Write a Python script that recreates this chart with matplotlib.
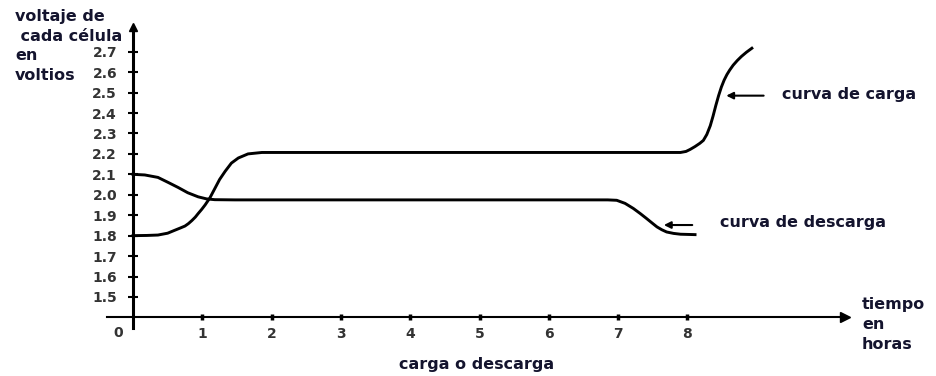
import matplotlib.pyplot as plt

# curva de carga (horas, voltios)
carga_x = [0, 0.2, 0.36, 0.5, 0.60, 0.68, 0.75, 0.80, 0.85, 0.90, 0.94, 0.99, 1.04, 1.11, 1.18,
           1.25, 1.33, 1.42, 1.52, 1.66, 1.86, 7.9, 7.98, 8.04, 8.11, 8.18, 8.23, 8.28, 8.33,
           8.37, 8.41, 8.45, 8.49, 8.53, 8.57, 8.61, 8.66, 8.72, 8.78, 8.85, 8.93]
carga_y = [1.80, 1.801, 1.803, 1.812, 1.826, 1.837, 1.847, 1.859, 1.874, 1.891, 1.908, 1.928, 1.95,
           1.985, 2.03, 2.075, 2.115, 2.155, 2.18, 2.20, 2.207, 2.207, 2.212, 2.222, 2.236, 2.252,
           2.266, 2.295, 2.338, 2.385, 2.437, 2.485, 2.527, 2.561, 2.588, 2.61, 2.634, 2.657, 2.677,
           2.697, 2.717]

# curva de descarga
descarga_x = [0, 0.17, 0.36, 0.51, 0.65, 0.79, 0.94, 1.06, 1.18, 1.47, 6.85,
              6.98, 7.1, 7.22, 7.32, 7.41, 7.49, 7.56, 7.63, 7.70, 7.8, 7.9, 8.11]
descarga_y = [2.10, 2.097, 2.085, 2.06, 2.036, 2.01, 1.99, 1.98, 1.976, 1.975, 1.975,
              1.973, 1.958, 1.933, 1.908, 1.884, 1.862, 1.843, 1.829, 1.818, 1.811, 1.807, 1.805]

y_ticks = [1.5, 1.6, 1.7, 1.8, 1.9, 2.0, 2.1, 2.2, 2.3, 2.4, 2.5, 2.6, 2.7]
x_ticks = [1, 2, 3, 4, 5, 6, 7, 8]
ylabel_lines = ['voltaje de', ' cada célula', 'en', 'voltios']

txt = '#14142e'

fig = plt.figure(figsize=(9.36, 3.76), dpi=100)
ax = fig.add_axes([0, 0, 1, 1])
ax.set_xlim(-1.919, 11.587)
ax.set_ylim(1.1133, 2.953)

ax.plot(carga_x, carga_y, color='black', lw=2.1, solid_joinstyle='round')
ax.plot(descarga_x, descarga_y, color='black', lw=2.1, solid_joinstyle='round')

# ejes
for s in ['top', 'right']:
    ax.spines[s].set_visible(False)
ax.spines['left'].set_position(('data', 0))
ax.spines['left'].set_bounds(1.35, 2.80)
ax.spines['left'].set_linewidth(2.2)
ax.spines['bottom'].set_position(('data', 1.4))
ax.spines['bottom'].set_bounds(-0.37, 10.2)
ax.spines['bottom'].set_linewidth(1.5)
ax.plot(0, 2.82, marker='^', color='black', ms=6, clip_on=False)
ax.plot(10.28, 1.4, marker='>', color='black', ms=7, clip_on=False)

ax.set_yticks(y_ticks)
ax.set_yticklabels([f'{v:.1f}' for v in y_ticks])
ax.set_xticks(x_ticks)
ax.set_xticklabels([str(v) for v in x_ticks])
ax.tick_params(axis='y', direction='inout', length=7, width=1.5, pad=8,
               labelsize=10, labelcolor='#333333')
ax.tick_params(axis='x', direction='inout', length=4, width=2.5, pad=5,
               labelsize=10, labelcolor='#333333')
for lab in ax.get_xticklabels() + ax.get_yticklabels():
    lab.set_fontweight('bold')
ax.text(-0.22, 1.324, '0', ha='center', va='center', fontsize=10,
        fontweight='bold', color='#333333')

# flechas
ax.annotate('', xy=(8.52, 2.485), xytext=(9.14, 2.485),
            arrowprops=dict(arrowstyle='-|>', lw=1.5, color='black', mutation_scale=10))
ax.annotate('', xy=(7.62, 1.852), xytext=(8.11, 1.852),
            arrowprops=dict(arrowstyle='-|>', lw=1.5, color='black', mutation_scale=10))

fnt = dict(family='DejaVu Sans', fontweight='bold', color=txt, fontsize=11.5)
for i, line in enumerate(ylabel_lines):
    fig.text(15 / 936, 1 - (17 + 19.5 * i) / 376, line, ha='left', va='center', **fnt)
fig.text(782 / 936, 1 - 95 / 376, 'curva de carga', ha='left', va='center', **fnt)
fig.text(720 / 936, 1 - 222 / 376, 'curva de descarga', ha='left', va='center', **fnt)
fig.text(862 / 936, 1 - 297 / 376, 'tiempo\nen\nhoras', ha='left', va='top',
         linespacing=1.4, **fnt)
fig.text(477 / 936, 1 - 365 / 376, 'carga o descarga', ha='center', va='center', **fnt)

fig.savefig('out.png', dpi=100)
